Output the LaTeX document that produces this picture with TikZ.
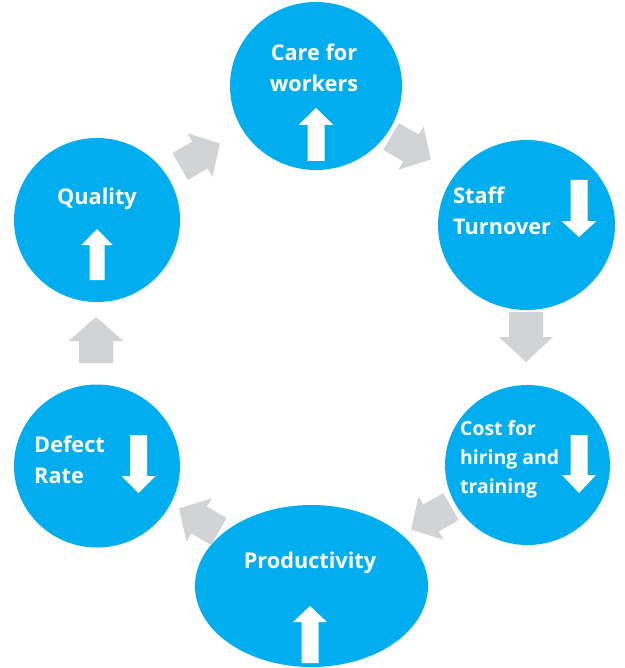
\documentclass[tikz,border=0pt]{standalone}
\usepackage{fontspec}
\setmainfont{Open Sans}
\usetikzlibrary{shapes.geometric}
\definecolor{cyanblue}{HTML}{00AEEF}
\definecolor{arrowgray}{HTML}{D1D3D4}
% #1 style, #2 centre, #3 angle, #4 length, #5 shaft half width, #6 head half width, #7 head length
\newcommand\blkarrow[7]{\fill[#1, shift={(#2)}, rotate=#3] (-#4/2,-#5) -- (#4/2-#7,-#5) -- (#4/2-#7,-#6) -- (#4/2,0) -- (#4/2-#7,#6) -- (#4/2-#7,#5) -- (-#4/2,#5) -- cycle;}
\tikzset{
  blob/.style={ellipse, fill=cyanblue, draw=none, inner sep=0pt},
  lbl/.style={text=white, font=\fontsize{21.7}{31.5}\selectfont\bfseries, inner sep=0pt},
  lblc/.style={lbl, align=center},
  lbll/.style={lbl, align=left, anchor=west},
}
\begin{document}
\begin{tikzpicture}[x=1pt, y=-1pt]
\useasboundingbox (0,0) rectangle (624,668);
% circles
\node[blob, minimum width=172pt, minimum height=168pt] (care) at (316,86) {};
\node[blob, minimum width=177pt, minimum height=170pt] (staff) at (526.5,225) {};
\node[blob, minimum width=165pt, minimum height=160pt] (cost) at (527.5,465) {};
\node[blob, minimum width=233pt, minimum height=162pt] (prod) at (311.5,586) {};
\node[blob, minimum width=166pt, minimum height=163pt] (defect) at (97,466) {};
\node[blob, minimum width=166pt, minimum height=164pt] (quality) at (97,220) {};
% labels
\node[lblc] (tcare) at (314,68) {Care for\\workers};
\node[lbll] (tstaff) at (453,211) {Staff\\Turnover};
\node[lbll, font=\fontsize{19.4}{29}\selectfont\bfseries] (tcost) at (460,459) {Cost for\\hiring and\\training};
\node[lblc] (tprod) at (310,563) {Productivity};
\node[lbll] (tdefect) at (34,460) {Defect\\Rate};
\node[lblc] (tquality) at (97,199) {Quality};
% white trend arrows
\blkarrow{white}{316,134.5}{90}{53}{8.5}{17.5}{17}
\blkarrow{white}{579,208.5}{-90}{57}{8.5}{17.5}{16}
\blkarrow{white}{579,464}{-90}{58}{8.5}{17}{18}
\blkarrow{white}{138.5,464}{-90}{58}{8.5}{17}{17}
\blkarrow{white}{97,254.5}{90}{51}{7.5}{15.5}{16}
\blkarrow{white}{310,634.5}{90}{57}{8.5}{17}{16}
% gray cycle arrows
\blkarrow{arrowgray}{526,337}{-90}{50}{17}{27}{25}
\blkarrow{arrowgray}{96,340}{90}{46}{17}{27.5}{24}
\blkarrow{arrowgray}{200,155}{30}{46}{15.5}{25}{23}
\blkarrow{arrowgray}{411,148}{-30}{46}{15.5}{25}{23}
\blkarrow{arrowgray}{431,518}{210}{46}{15.5}{25}{23}
\blkarrow{arrowgray}{199,520}{150}{46}{15.5}{25}{23}
\end{tikzpicture}
\end{document}
